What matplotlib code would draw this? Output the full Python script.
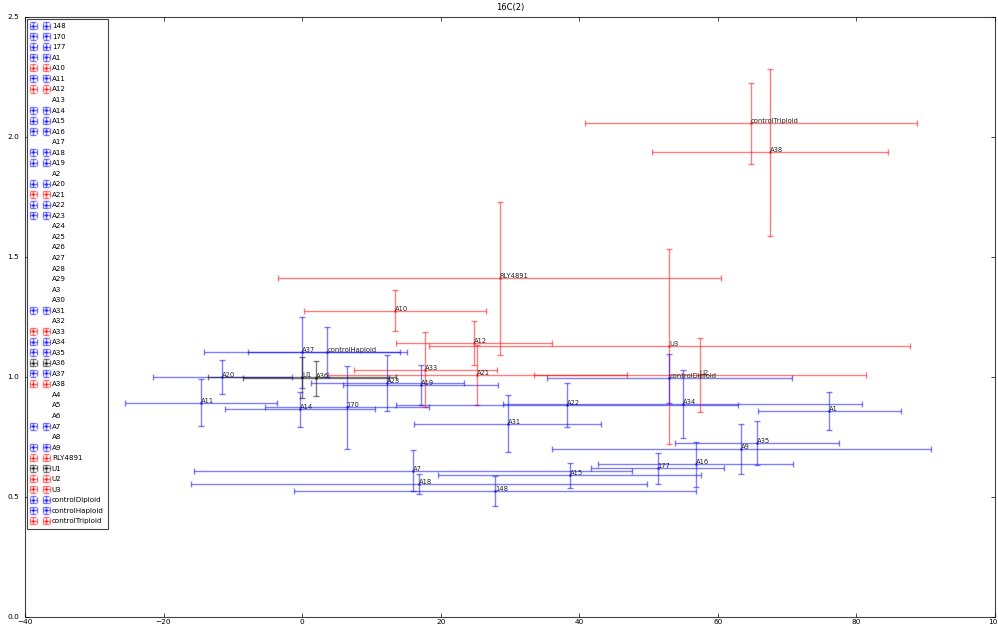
import matplotlib
matplotlib.use("Agg")
import matplotlib.pyplot as plt
from matplotlib.lines import Line2D

plt.style.use("classic")

# sample names, in sorted order as they go in the legend
noms = ["148", "170", "177", "A1", "A10", "A11", "A12", "A13", "A14", "A15",
        "A16", "A17", "A18", "A19", "A2", "A20", "A21", "A22", "A23", "A24",
        "A25", "A26", "A27", "A28", "A29", "A3", "A30", "A31", "A32", "A33",
        "A34", "A35", "A36", "A37", "A38", "A4", "A5", "A6", "A7", "A8", "A9",
        "RLY4891", "U1", "U2", "U3", "controlDiploid", "controlHaploid",
        "controlTriploid"]

# mean position / spread for each measured sample (missing = no data)
x_moy = {"148": 27.9, "170": 6.45, "177": 51.3, "A1": 76.1, "A10": 13.4,
         "A11": -14.6, "A12": 24.8, "A14": -0.3, "A15": 38.6, "A16": 56.8,
         "A18": 16.9, "A19": 17.1, "A20": -11.5, "A21": 25.3, "A22": 38.2,
         "A23": 12.3, "A31": 29.7, "A33": 17.8, "A34": 54.9, "A35": 65.65,
         "A36": 2.0, "A37": 0.0, "A38": 67.5, "A7": 16.0, "A9": 63.4,
         "RLY4891": 28.5, "U1": 0.0, "U2": 57.4, "U3": 53.0,
         "controlDiploid": 53.0, "controlHaploid": 3.66, "controlTriploid": 64.8}
y_moy = {"148": 0.525, "170": 0.874, "177": 0.619, "A1": 0.858, "A10": 1.276,
         "A11": 0.893, "A12": 1.143, "A14": 0.866, "A15": 0.59, "A16": 0.636,
         "A18": 0.553, "A19": 0.967, "A20": 1.0, "A21": 1.01, "A22": 0.884,
         "A23": 0.975, "A31": 0.806, "A33": 1.03, "A34": 0.8875, "A35": 0.724,
         "A36": 0.994, "A37": 1.103, "A38": 1.936, "A7": 0.61, "A9": 0.699,
         "RLY4891": 1.411, "U1": 0.998, "U2": 1.008, "U3": 1.127,
         "controlDiploid": 0.994, "controlHaploid": 1.103, "controlTriploid": 2.057}
x_err = {"148": 29.0, "170": 11.8, "177": 9.6, "A1": 10.3, "A10": 13.1,
         "A11": 10.95, "A12": 11.3, "A14": 10.8, "A15": 19.0, "A16": 14.1,
         "A18": 32.9, "A19": 11.2, "A20": 10.0, "A21": 21.6, "A22": 24.7,
         "A23": 11.0, "A31": 13.5, "A33": 10.3, "A34": 25.9, "A35": 11.8,
         "A36": 10.6, "A37": 14.1, "A38": 17.0, "A7": 31.6, "A9": 27.3,
         "RLY4891": 32.0, "U1": 13.6, "U2": 24.0, "U3": 34.7,
         "controlDiploid": 17.7, "controlHaploid": 11.5, "controlTriploid": 24.0}
y_err = {"148": 0.0625, "170": 0.173, "177": 0.066, "A1": 0.078, "A10": 0.085,
         "A11": 0.097, "A12": 0.092, "A14": 0.073, "A15": 0.052, "A16": 0.095,
         "A18": 0.042, "A19": 0.082, "A20": 0.07, "A21": 0.125, "A22": 0.092,
         "A23": 0.117, "A31": 0.118, "A33": 0.156, "A34": 0.141, "A35": 0.092,
         "A36": 0.073, "A37": 0.147, "A38": 0.349, "A7": 0.085, "A9": 0.103,
         "RLY4891": 0.318, "U1": 0.087, "U2": 0.154, "U3": 0.408,
         "controlDiploid": 0.101, "controlHaploid": 0.104, "controlTriploid": 0.169}

# ploidy colour
rouges = ["A10", "A12", "A21", "A33", "A38", "RLY4891", "U2", "U3", "controlTriploid"]
noirs = ["A36", "U1"]

fig = plt.figure(figsize=(9.98, 6.26), dpi=100, facecolor="white")
ax = fig.add_subplot(111)
fig.subplots_adjust(left=0.025, right=0.997, bottom=0.0144, top=0.973)

poignees = []
for nom in noms:
    if nom not in x_moy:
        poignees.append(Line2D([], [], linestyle="none"))
        continue
    if nom in rouges:
        c = "r"
    elif nom in noirs:
        c = "k"
    else:
        c = "b"
    h = ax.errorbar(x_moy[nom], y_moy[nom], xerr=x_err[nom], yerr=y_err[nom],
                    fmt=".", color=c, ecolor=c, alpha=0.5, markersize=3,
                    elinewidth=1.0, capsize=2, capthick=1.0)
    ax.text(x_moy[nom], y_moy[nom], nom, fontsize=4.9, color="#222222")
    poignees.append(h)

ax.set_xlim(-40, 100)
ax.set_ylim(0, 2.5)
ax.set_title("16C(2)", fontsize=6)
ax.tick_params(labelsize=5.3, length=3, width=0.5)
ax.tick_params(axis="x", pad=1.5)
for s in ax.spines.values():
    s.set_linewidth(0.8)
    s.set_color("#444444")

leg = ax.legend(poignees, noms, loc="upper left", fontsize=5.1, numpoints=2,
                labelspacing=0.64, handlelength=2.4, borderaxespad=0.3,
                borderpad=0.6, handletextpad=0.5)
leg.get_frame().set_linewidth(0.8)
leg.get_frame().set_edgecolor("#444444")

fig.savefig("out.png", dpi=100, facecolor="white")
